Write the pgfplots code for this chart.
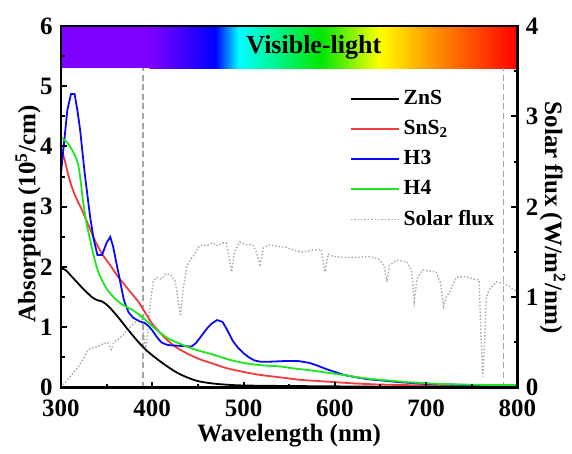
\documentclass[border=0pt]{standalone}
\usepackage{fontspec}
\setmainfont{Liberation Serif}
\usepackage{pgfplots}
\pgfplotsset{compat=1.18}

\definecolor{cviolet}{RGB}{128,0,255}
\definecolor{cblue}{RGB}{0,0,255}
\definecolor{ccyan}{RGB}{0,255,255}
\definecolor{cgreen}{RGB}{0,230,0}
\definecolor{cyellow}{RGB}{255,255,0}
\definecolor{corange}{RGB}{255,140,0}
\definecolor{cred}{RGB}{255,0,0}
\definecolor{snsred}{RGB}{240,60,60}
\definecolor{hblue}{RGB}{10,10,250}
\definecolor{hgreen}{RGB}{30,230,30}
\definecolor{solgray}{RGB}{165,165,165}

\pgfplotsset{
  common/.style={
    scale only axis, width=228.5pt, height=181pt,
    xmin=300, xmax=800,
    /pgf/number format/assume math mode=true,
    tick label style={font=\fontsize{12.5}{14}\selectfont\bfseries, inner sep=1pt},
    label style={font=\fontsize{12.5}{14}\selectfont\bfseries},
    major tick length=3pt, minor tick length=1.8pt,
    every tick/.style={black, line width=1pt},
    axis line style={line width=1.2pt},
  },
}

\begin{document}
\begin{tikzpicture}

% right axis: solar flux
\begin{axis}[common,
    axis x line=none, axis y line*=right,
    ymin=0, ymax=4, ytick={0,1,2,3,4}, minor y tick num=1,
    yticklabel style={xshift=3pt},
    ylabel={Solar flux (W/m\textsuperscript{2}/nm)},
    ylabel style={at={(axis description cs:1.077,0.47)}, anchor=center, rotate=180},
]
\addplot[solgray, densely dotted, line width=0.7pt] coordinates {
    (300,0) (305,0.06) (310,0.12) (315,0.18) (320,0.24) (325,0.33) (330,0.42)
    (335,0.44) (340,0.45) (345,0.48) (351,0.5) (355,0.42) (358,0.5) (362,0.53)
    (368,0.58) (373,0.64) (379,0.7) (384,0.75) (388,0.8) (391,0.55) (393,0.42)
    (395,0.6) (397,0.85) (401,1.17) (405,1.22) (410,1.2) (415,1.26) (420,1.25)
    (425,1.18) (428,1.0) (431,0.79) (434,1.1) (438,1.34) (442,1.42) (446,1.47)
    (450,1.55) (455,1.58) (460,1.57) (466,1.6) (472,1.57) (477,1.6) (481,1.6)
    (484,1.45) (487,1.28) (490,1.5) (496,1.61) (503,1.58) (510,1.58) (514,1.5)
    (518,1.36) (522,1.55) (529,1.58) (538,1.56) (547,1.55) (555,1.52) (565,1.5)
    (575,1.52) (585,1.53) (589,1.28) (593,1.48) (598,1.45) (610,1.44) (624,1.44)
    (638,1.45) (648,1.42) (654,1.35) (657,1.17) (660,1.35) (668,1.41) (679,1.39)
    (684,1.3) (687,0.95) (690,1.2) (696,1.3) (711,1.28) (716,1.15) (719,0.9)
    (722,1.0) (726,1.06) (733,1.22) (744,1.23) (752,1.2) (758,1.19) (760,0.6)
    (762,0.12) (764,0.5) (766,1.0) (769,1.08) (777,1.17) (785,1.15) (791,1.12)
    (799,1.06)
};
\end{axis}

% left axis: absorption
\begin{axis}[common, name=abs,
    axis on top,
    ymin=0, ymax=6, ytick={0,1,2,3,4,5,6}, minor y tick num=1,
    xtick={300,400,500,600,700,800}, minor x tick num=1,
    xtick pos=bottom, ytick pos=left,
    xticklabel style={yshift=-5pt},
    yticklabel style={xshift=-3pt},
    xlabel={Wavelength (nm)},
    xlabel style={at={(axis description cs:0.5,-0.133)}, anchor=center},
    ylabel={Absorption (10\textsuperscript{5}/cm)},
    ylabel style={at={(axis description cs:-0.072,0.48)}, anchor=center},
    legend style={draw=none, fill=none, at={(0.972,0.846)}, anchor=north east,
        font=\fontsize{10.8}{12.5}\selectfont\bfseries, row sep=2.4pt},
    legend cell align=left,
    legend image code/.code={%
        \draw[mark repeat=2, mark phase=2, #1] plot coordinates {(0pt,0pt) (12pt,0pt) (24pt,0pt)};},
]
% visible-light colour bar
\fill[cviolet] (axis cs:300,5.3) rectangle (axis cs:397,6);
\fill[left color=cviolet, right color=cblue] (axis cs:397,5.3) rectangle (axis cs:469,6);
\fill[left color=cblue, right color=ccyan] (axis cs:469,5.3) rectangle (axis cs:495,6);
\fill[left color=ccyan, right color=cgreen] (axis cs:495,5.3) rectangle (axis cs:585,6);
\fill[left color=cgreen, right color=cyellow] (axis cs:585,5.3) rectangle (axis cs:649,6);
\fill[left color=cyellow, right color=corange] (axis cs:649,5.3) rectangle (axis cs:712,6);
\fill[left color=corange, right color=cred] (axis cs:712,5.3) rectangle (axis cs:800,6);
\node[font=\fontsize{13}{15}\selectfont\bfseries] at (axis cs:577,5.64) {Visible-light};
\draw[solgray, line width=0.6pt, dash pattern=on 3pt off 1.8pt] (axis cs:390,0) -- (axis cs:390,5.3);
\draw[solgray, line width=0.6pt, dash pattern=on 3pt off 1.8pt] (axis cs:785,0) -- (axis cs:785,5.3);

\addplot[color=black, line width=0.9pt, smooth] coordinates {
    (300,1.98) (305,1.95) (312,1.84) (323,1.66) (334,1.5) (340,1.45) (345,1.43)
    (352,1.35) (362,1.18) (373,0.97) (384,0.77) (395,0.6) (410,0.42) (428,0.24)
    (447,0.12) (465,0.07) (490,0.04) (520,0.03) (600,0.02) (700,0.01) (800,0.01)
};
\addlegendentry{ZnS}
\addplot[color=snsred, line width=0.9pt, smooth] coordinates {
    (300,4.0) (304,3.78) (310,3.42) (316,3.17) (323,2.95) (330,2.7) (337,2.45)
    (345,2.22) (354,2.03) (362,1.85) (370,1.7) (378,1.55) (385,1.42) (392,1.25)
    (400,1.06) (408,0.92) (417,0.78) (427,0.66) (439,0.56) (452,0.47) (466,0.4)
    (482,0.32) (500,0.26) (518,0.21) (540,0.17) (561,0.13) (580,0.11) (600,0.09)
    (620,0.07) (650,0.05) (700,0.035) (750,0.025) (800,0.02)
};
\addlegendentry{SnS\textsubscript{2}}
\addplot[color=hblue, line width=0.9pt] coordinates {
    (300,3.55) (303,4.0) (307,4.6) (311,4.87) (315,4.87) (318,4.6) (321,4.28)
    (326,3.56) (332,2.83) (336,2.45) (340,2.2) (345,2.2) (350,2.4) (354,2.5)
    (357,2.35) (361,2.05) (365,1.75) (369,1.45) (374,1.25) (379,1.16) (386,1.1)
    (392,1.07) (396,1.02) (400,0.95) (405,0.84) (410,0.75) (416,0.71) (421,0.7)
    (432,0.69) (443,0.68) (448,0.74) (454,0.86) (460,0.98) (465,1.06) (471,1.12)
    (477,1.09) (482,0.96) (488,0.78) (494,0.66) (500,0.57) (506,0.5) (512,0.45)
    (518,0.43) (530,0.43) (545,0.44) (560,0.44) (572,0.41) (580,0.37) (590,0.31)
    (600,0.26) (610,0.21) (620,0.18) (635,0.14) (650,0.12) (670,0.09) (700,0.06)
    (750,0.04) (800,0.04)
};
\addlegendentry{H3}
\addplot[color=hgreen, line width=0.9pt, smooth] coordinates {
    (300,4.15) (306,4.08) (312,3.95) (318,3.75) (321,3.5) (324,3.12) (328,2.73)
    (332,2.45) (336,2.18) (340,1.96) (345,1.78) (351,1.62) (359,1.48) (367,1.38)
    (378,1.29) (385,1.22) (392,1.13) (403,0.98) (417,0.82) (430,0.73) (445,0.64)
    (466,0.55) (485,0.46) (503,0.4) (520,0.37) (540,0.35) (554,0.32) (576,0.28)
    (595,0.24) (613,0.2) (630,0.16) (649,0.13) (680,0.09) (715,0.06) (760,0.045)
    (800,0.04)
};
\addlegendentry{H4}
\addlegendimage{color=solgray, densely dotted, line width=0.7pt}
\addlegendentry{Solar flux}
\end{axis}

\path ([shift={(-30.5pt,-30pt)}]abs.south west) rectangle ([shift={(27pt,13pt)}]abs.north east);
\end{tikzpicture}
\end{document}
